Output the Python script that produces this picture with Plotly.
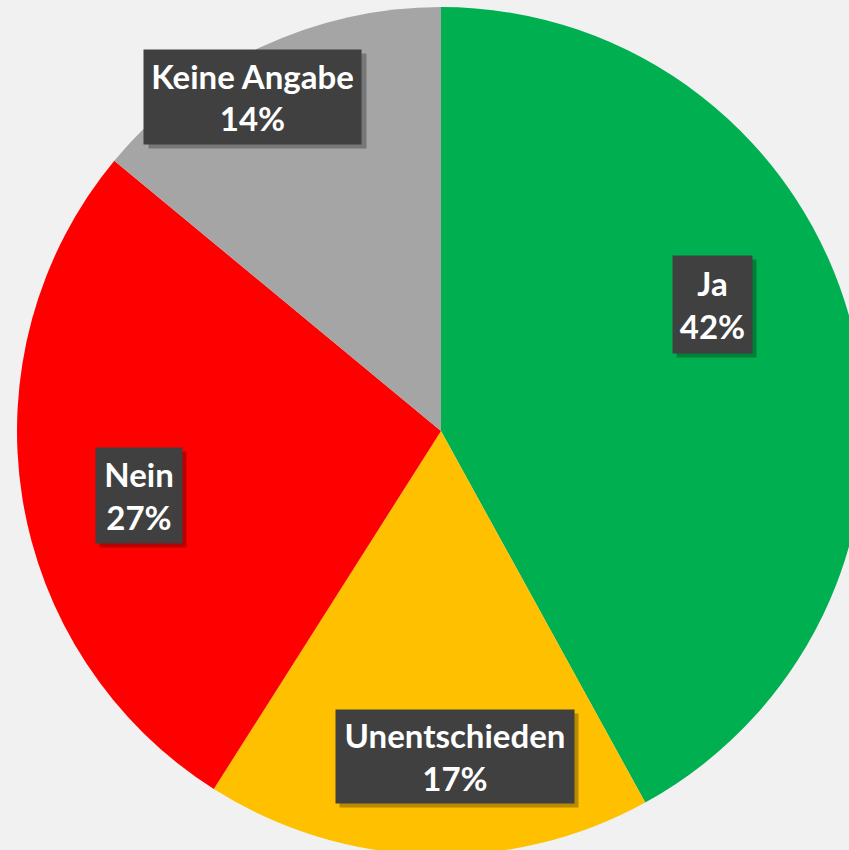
import plotly.graph_objects as go

# Daten
labels = ["Ja", "Unentschieden", "Nein", "Keine Angabe"]
values = [42, 17, 27, 14]
colors = ["#00B050", "#FFC000", "#FF0000", "#A5A5A5"]

# Layout (Pixel, bezogen auf die Seite)
W, H = 880, 870
BG = "#f1f1f1"
center = (441, 431)
radius = 424
# Beschriftungsboxen: Mittelpunkt und Größe in Pixel
label_pos = {
    "Ja": (712, 304, 79, 97),
    "Unentschieden": (455, 756, 238, 93),
    "Nein": (139, 495, 86, 95),
    "Keine Angabe": (253, 97, 217, 94),
}

cx, cy = center
fig = go.Figure(go.Pie(
    labels=labels,
    values=values,
    sort=False,
    direction="clockwise",
    rotation=0,
    marker=dict(colors=colors, line=dict(width=0)),
    textinfo="none",
    hoverinfo="skip",
    domain=dict(x=[(cx - radius) / W, (cx + radius) / W],
                y=[1 - (cy + radius) / H, 1 - (cy - radius) / H]),
))

total = sum(values)
annotations = []
for lab, val in zip(labels, values):
    x, y, bw, bh = label_pos[lab]
    common = dict(x=x / W, y=1 - y / H, xref="paper", yref="paper",
                  showarrow=False, width=bw, height=bh, borderpad=0,
                  xanchor="center", yanchor="middle")
    # Schatten
    annotations.append(dict(common, text=" ", bgcolor="rgba(0,0,0,0.28)",
                            xshift=4, yshift=-4))
    annotations.append(dict(common, text=f"{lab}<br>{round(val / total * 100)}%",
                            bgcolor="#404040",
                            font=dict(family="Lato", size=33, color="white", weight="bold")))

fig.update_layout(
    width=W, height=H,
    margin=dict(l=0, r=0, t=0, b=0),
    paper_bgcolor=BG,
    plot_bgcolor=BG,
    showlegend=False,
    annotations=annotations,
)

# Seitenrand entfernen, damit die Torte wie im Original angeschnitten ist
fig.write_html("out.html", config={"displayModeBar": False}, post_script=(
    "document.body.style.margin='0';"
    "document.body.style.overflow='hidden';"
    f"document.body.style.background='{BG}';"
))
